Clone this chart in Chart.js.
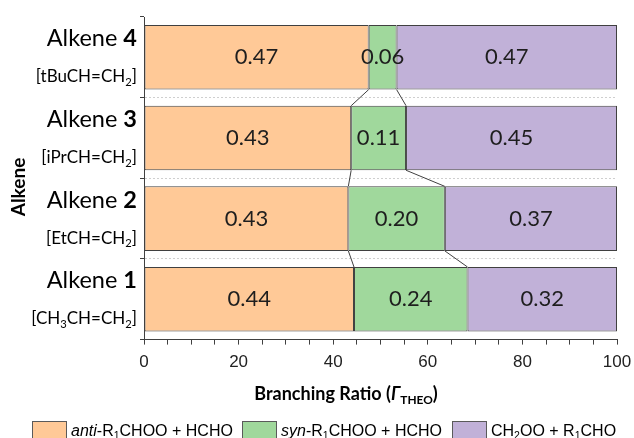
<!DOCTYPE html>
<html>
<head>
<meta charset="utf-8">
<script src="https://cdn.jsdelivr.net/npm/chart.js@4.4.1/dist/chart.umd.min.js"></script>
<style>
html,body{margin:0;padding:0;background:#fff;overflow:hidden;}
canvas{display:block;}
</style>
</head>
<body>
<canvas id="c" width="634" height="438"></canvas>
<script>
// ---- data (top row first) ----
const categories = ['4', '3', '2', '1'];
const formulas = ['[tBuCH=CH_2]', '[iPrCH=CH_2]', '[EtCH=CH_2]', '[CH_3CH=CH_2]'];
const seriesNames = ['*anti*-R_1CHOO + HCHO', '*syn*-R_1CHOO + HCHO', 'CH_2OO + R_1CHO'];
const antiValues = [47.5, 43.8, 43.2, 44.4];
const synValues = [5.9, 11.6, 20.4, 24.0];
const ch2ooValues = [46.6, 44.6, 36.4, 31.6];
const antiLabels = ['0.47', '0.43', '0.43', '0.44'];
const synLabels = ['0.06', '0.11', '0.20', '0.24'];
const ch2ooLabels = ['0.47', '0.45', '0.37', '0.32'];
const xTicks = [0, 20, 40, 60, 80, 100];

const colors = ['#FFC997', '#A0D89C', '#C1B1D8'];
const edge = '#404040';

// ---- rich text helper: *italic*, ^bold^, _x / _{xx} subscript ----
function richRuns(str) {
  const re = /\*([^*]+)\*|\^([^^]+)\^|_\{([^}]+)\}|_(.)|([^*^_]+)/g;
  const out = []; let m;
  while ((m = re.exec(str))) {
    if (m[1] !== undefined) out.push({ t: m[1], it: true });
    else if (m[2] !== undefined) out.push({ t: m[2], b: true });
    else if (m[3] !== undefined) out.push({ t: m[3], sub: true });
    else if (m[4] !== undefined) out.push({ t: m[4], sub: true });
    else out.push({ t: m[5] });
  }
  return out;
}
function drawRich(ctx, str, x, y, o) {
  const runs = richRuns(str);
  const fontOf = r => {
    const sz = r.sub ? o.size * 0.66 : o.size;
    return (r.it ? 'italic ' : '') + ((r.b || o.bold) ? 'bold ' : '') + sz + 'px ' + o.family;
  };
  let total = 0;
  runs.forEach(r => { ctx.font = fontOf(r); r.w = ctx.measureText(r.t).width; total += r.w; });
  let cx = o.align === 'right' ? x - total : (o.align === 'center' ? x - total / 2 : x);
  ctx.fillStyle = o.color || '#000';
  ctx.textAlign = 'left';
  ctx.textBaseline = 'alphabetic';
  runs.forEach(r => {
    ctx.font = fontOf(r);
    ctx.fillText(r.t, cx, y + (r.sub ? o.size * 0.22 : 0));
    cx += r.w;
  });
  return total;
}

const decor = {
  id: 'decor',
  afterDatasetsDraw(chart) {
    const ctx = chart.ctx;
    const metas = [0, 1, 2].map(i => chart.getDatasetMeta(i));
    ctx.save();
    // series connector lines between neighbouring bars
    ctx.strokeStyle = edge; ctx.lineWidth = 1;
    for (let j = 0; j < categories.length - 1; j++) {
      for (let d = 0; d < 2; d++) {
        const up = metas[d].data[j].getProps(['x', 'y', 'height'], true);
        const lo = metas[d].data[j + 1].getProps(['x', 'y', 'height'], true);
        ctx.beginPath();
        ctx.moveTo(up.x, up.y + up.height / 2);
        ctx.lineTo(lo.x, lo.y - lo.height / 2);
        ctx.stroke();
      }
    }
    // value labels
    const labelSets = [antiLabels, synLabels, ch2ooLabels];
    ctx.font = '22px Lato';
    ctx.fillStyle = '#1e1e1e';
    ctx.textAlign = 'center';
    ctx.textBaseline = 'middle';
    metas.forEach((m, d) => m.data.forEach((el, j) => {
      const p = el.getProps(['x', 'y', 'base'], true);
      ctx.fillText(labelSets[d][j], (p.x + p.base) / 2, p.y);
    }));
    ctx.restore();
  },
  afterDraw(chart) {
    const ctx = chart.ctx;
    const ys = chart.scales.y;
    ctx.save();
    // category labels
    categories.forEach((c, j) => {
      const cy = ys.getPixelForValue(j);
      drawRich(ctx, 'Alkene ^' + c + '^', 137, cy - 11, { size: 23.5, family: 'Lato', align: 'right', color: '#000' });
      drawRich(ctx, formulas[j], 137, cy + 25, { size: 17, family: 'Lato', align: 'right', color: '#000' });
    });
    // y axis title
    ctx.save();
    ctx.translate(25, 187);
    ctx.rotate(-Math.PI / 2);
    drawRich(ctx, 'Alkene', 0, 0, { size: 19, family: 'Lato', bold: true, align: 'center', color: '#000' });
    ctx.restore();
    // x axis title
    drawRich(ctx, 'Branching Ratio (*Γ*_{THEO})', 346, 400, { size: 18, family: 'Lato', bold: true, align: 'center', color: '#000' });
    // legend
    const lx = [32, 242, 452];
    seriesNames.forEach((n, d) => {
      ctx.fillStyle = colors[d];
      ctx.fillRect(lx[d] + 0.5, 421.5, 34, 20);
      ctx.strokeStyle = '#5a5a5a'; ctx.lineWidth = 1;
      ctx.strokeRect(lx[d] + 0.5, 421.5, 34, 20);
      drawRich(ctx, n, lx[d] + 39, 435.5, { size: 16, family: '"Liberation Sans"', align: 'left', color: '#000' });
    });
    ctx.restore();
  }
};

const mk = (label, data, i) => ({
  label, data,
  backgroundColor: colors[i],
  borderColor: edge,
  borderWidth: 1,
  borderSkipped: false,
  barPercentage: 0.8,
  categoryPercentage: 1.0
});

new Chart(document.getElementById('c'), {
  type: 'bar',
  data: {
    labels: categories.map(c => 'Alkene ' + c),
    datasets: [
      mk(seriesNames[0], antiValues, 0),
      mk(seriesNames[1], synValues, 1),
      mk(seriesNames[2], ch2ooValues, 2)
    ]
  },
  options: {
    indexAxis: 'y',
    responsive: false,
    animation: false,
    devicePixelRatio: 1,
    layout: { padding: { left: 140, right: 17, top: 17, bottom: 57 } },
    plugins: { legend: { display: false }, tooltip: { enabled: false }, title: { display: false } },
    scales: {
      x: {
        stacked: true, min: 0, max: 100,
        afterFit: s => { s.paddingRight = 0; s.paddingLeft = 0; },
        ticks: {
          stepSize: 5, autoSkip: false, maxRotation: 0, padding: 8, color: '#222',
          font: { family: '"Liberation Sans"', size: 17 },
          callback: v => xTicks.includes(v) ? String(v) : ''
        },
        grid: { drawOnChartArea: false, drawTicks: true, tickLength: 5, tickColor: edge },
        border: { color: edge, width: 1 }
      },
      y: {
        stacked: true,
        ticks: { display: false },
        grid: {
          offset: true, drawTicks: true, tickLength: 4, tickColor: edge, lineWidth: 1,
          color: c => (c.index === undefined || c.index === 0) ? 'rgba(0,0,0,0)' : '#cfcfcf'
        },
        border: { color: edge, width: 1, dash: [2, 2] }
      }
    }
  },
  plugins: [decor]
});
</script>
</body>
</html>
